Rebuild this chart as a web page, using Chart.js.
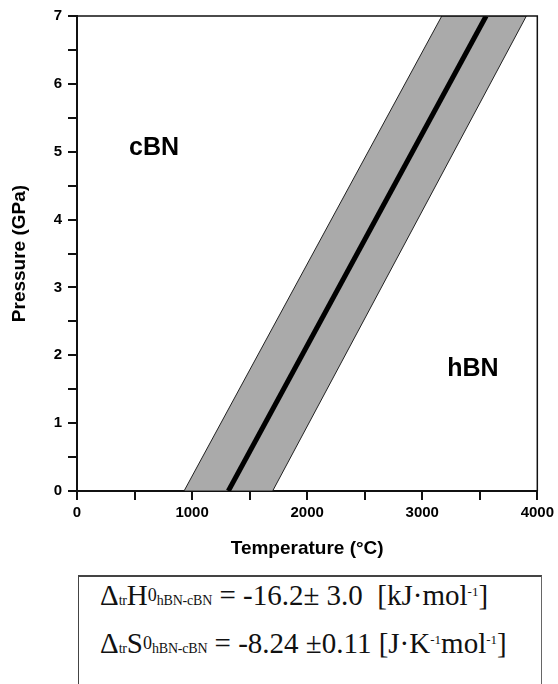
<!DOCTYPE html>
<html>
<head>
<meta charset="utf-8">
<script src="https://cdn.jsdelivr.net/npm/chart.js@4"></script>
<style>
  body { margin: 0; background: #fff; width: 558px; height: 684px; overflow: hidden; }
  #wrap { position: relative; width: 558px; height: 560px; }
  #box {
    position: absolute; left: 78px; top: 575px; width: 464px; height: 140px;
    border-top: 2px solid #444; border-left: 1.5px solid #444; border-right: 1.5px solid #666;
    font-family: "Liberation Serif", "DejaVu Serif", serif; font-size: 29px; color: #111;
    box-sizing: border-box; padding: 0 0 0 21px; line-height: 42px;
  }
  #box div:first-child { margin-top: -3px; }
  .s { font-size: 14px; letter-spacing: -0.2px; }
  .sup { font-size: 18px; position: relative; top: -4px; }
  .u { font-size: 13px; position: relative; top: -9px; }
</style>
</head>
<body>
<div id="wrap"><canvas id="myChart"></canvas></div>
<div id="box">
  <div>&Delta;<span class="s">tr</span>H<span class="sup">0</span><span class="s">hBN-cBN</span> = -16.2&plusmn; 3.0&nbsp; [kJ&middot;mol<span class="u">-1</span>]</div>
  <div>&Delta;<span class="s">tr</span>S<span class="sup">0</span><span class="s">hBN-cBN</span> = -8.24 &plusmn;0.11 [J&middot;K<span class="u">-1</span>mol<span class="u">-1</span>]</div>
</div>
<script>
// pressure range (GPa) and temperature range (°C)
const pressureTicks = [0, 1, 2, 3, 4, 5, 6, 7];
const tempTicks = [0, 1000, 2000, 3000, 4000];

// hBN-cBN equilibrium line: temperature at P = 0 and P = 7
const boundaryP = [0, 7];
const boundaryT = [1315, 3555];
// uncertainty band edges
const lowerT = [930, 3170];
const upperT = [1700, 3905];

// phase labels
const phaseNames = ['cBN', 'hBN'];
const phaseT = [670, 3440];
const phaseP = [5.05, 1.8];

const pts = (ts) => ts.map((t, i) => ({ x: t, y: boundaryP[i] }));

// band as a closed shape
const band = pts(lowerT).concat(pts(upperT).reverse());
band.push(band[0]);

const ctx = document.getElementById('myChart').getContext('2d');
const tickFont = { family: 'Liberation Sans', weight: 'bold', size: 15 };

const frame = {
    id: 'frame',
    afterDatasetsDraw: (chart) => {
        const { ctx, chartArea: a, scales } = chart;
        ctx.save();
        ctx.strokeStyle = '#111';
        ctx.lineWidth = 1.5;
        ctx.beginPath();
        ctx.moveTo(a.left, a.top);
        ctx.lineTo(a.right, a.top);
        ctx.lineTo(a.right, a.bottom);
        ctx.stroke();
        ctx.fillStyle = '#000';
        ctx.font = 'bold 25px "Liberation Sans"';
        ctx.textAlign = 'center';
        ctx.textBaseline = 'middle';
        phaseNames.forEach((n, i) => {
            ctx.fillText(n, scales.x.getPixelForValue(phaseT[i]), scales.y.getPixelForValue(phaseP[i]));
        });
        ctx.restore();
    }
};

new Chart(ctx, {
    type: 'scatter',
    data: {
        datasets: [{
            data: band,
            order: 2,
            showLine: true,
            fill: 'shape',
            backgroundColor: '#aaaaaa',
            borderColor: '#222',
            borderWidth: 1,
            pointRadius: 0,
            tension: 0
        }, {
            data: pts(boundaryT),
            order: 1,
            showLine: true,
            borderColor: '#000',
            borderWidth: 5,
            pointRadius: 0
        }]
    },
    options: {
        responsive: true,
        maintainAspectRatio: false,
        animation: false,
        layout: { padding: { top: 16, right: 17, left: 0, bottom: 0 } },
        plugins: { legend: { display: false }, tooltip: { enabled: false } },
        scales: {
            x: {
                type: 'linear',
                min: tempTicks[0],
                max: tempTicks[tempTicks.length - 1],
                afterFit: (s) => { s.height = 69; },
                border: { color: '#111', width: 2 },
                grid: { drawOnChartArea: false, tickLength: 9, color: '#111', lineWidth: 2 },
                ticks: {
                    stepSize: 500, color: '#000', font: tickFont, padding: 4, maxRotation: 0,
                    callback: (v) => tempTicks.includes(v) ? String(v) : ''
                },
                title: {
                    display: true, text: 'Temperature (°C)', color: '#000',
                    font: { family: 'Liberation Sans', weight: 'bold', size: 19, lineHeight: 1.2 },
                    padding: { top: 0, bottom: 0 }
                }
            },
            y: {
                min: pressureTicks[0],
                max: pressureTicks[pressureTicks.length - 1],
                afterFit: (s) => { s.width = 77; },
                border: { color: '#111', width: 2 },
                grid: { drawOnChartArea: false, tickLength: 9, color: '#111', lineWidth: 2 },
                ticks: {
                    stepSize: 0.5, color: '#000', font: tickFont, padding: 6,
                    callback: (v) => pressureTicks.includes(v) ? String(v) : ''
                },
                title: {
                    display: true, text: 'Pressure (GPa)', color: '#000',
                    font: { family: 'Liberation Sans', weight: 'bold', size: 19, lineHeight: 1.2 },
                    padding: { top: 8, bottom: 0 }
                }
            }
        }
    },
    plugins: [frame, {
        id: 'background-colour',
        beforeDraw: (chart) => {
            const c = chart.canvas.getContext('2d');
            c.fillStyle = 'white';
            c.fillRect(0, 0, chart.width, chart.height);
        }
    }]
});
</script>
</body>
</html>
